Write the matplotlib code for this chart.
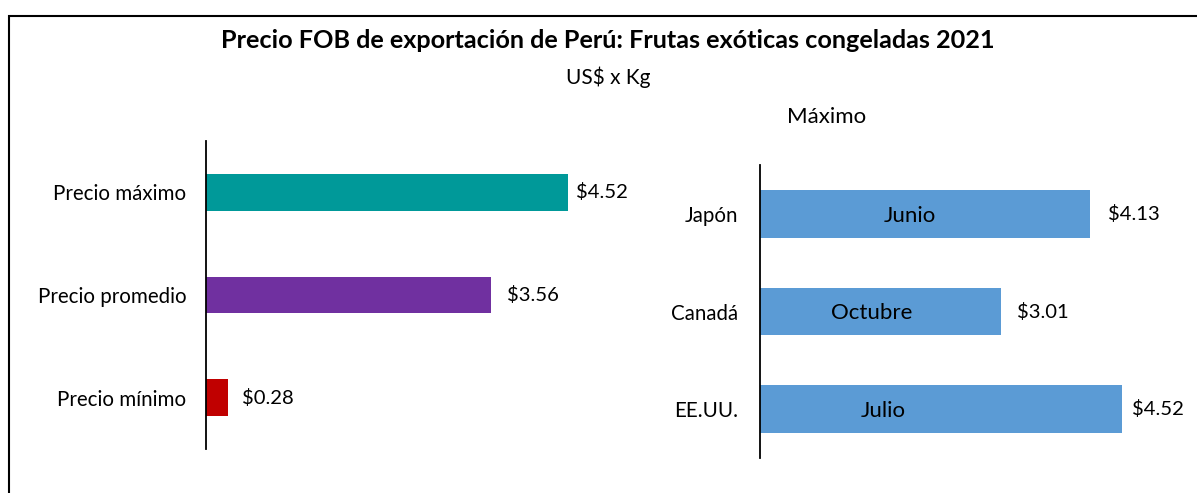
import matplotlib.pyplot as plt
from matplotlib.patches import Rectangle

plt.rcParams['font.family'] = ['Lato', 'DejaVu Sans']

# left panel
price_types = ["Precio máximo", "Precio promedio", "Precio mínimo"]
price_values = [4.52, 3.56, 0.28]
price_colors = ["#009999", "#7030A0", "#C00000"]

# right panel: max price by market
markets = ["Japón", "Canadá", "EE.UU."]
market_values = [4.13, 3.01, 4.52]
market_months = ["Junio", "Octubre", "Julio"]

# label placement (points / data units), as in the original
price_pad = [6, 11.5, 9.5]
market_pad = [12.5, 12, 7.5]
month_x = [1.87, 1.40, 1.54]

fig = plt.figure(figsize=(11.97, 4.93), dpi=100)
fig.patch.set_facecolor('white')

# frame (right and bottom edges fall outside the picture)
fig.add_artist(Rectangle((9 / 1197, -0.05), 1.2, 1 - 16 / 493 + 0.05,
                         transform=fig.transFigure, fill=False,
                         edgecolor='black', linewidth=1.5))

fig.text(0.508, 1 - 40 / 493, "Precio FOB de exportación de Perú: Frutas exóticas congeladas 2021",
         ha='center', va='center', fontsize=18.2, fontweight='bold')
fig.text(0.508, 1 - 77 / 493, "US$ x Kg", ha='center', va='center', fontsize=15)
fig.text(827 / 1197, 1 - 117 / 493, "Máximo", ha='center', va='center', fontsize=16)


def style_axis(ax, pad):
    for s in ['top', 'right', 'bottom']:
        ax.spines[s].set_visible(False)
    ax.spines['left'].set_linewidth(1.3)
    ax.set_xticks([])
    ax.tick_params(axis='y', length=0, pad=pad, labelsize=14.8)
    ax.set_ylim(2.5, -0.5)


ax1 = fig.add_axes([206 / 1197, 1 - 449 / 493, 434 / 1197, 308 / 493])
ax1.barh(range(len(price_types)), price_values, height=0.36, color=price_colors)
ax1.set_yticks(range(len(price_types)))
ax1.set_yticklabels(price_types)
ax1.set_xlim(0, 434 / 80)
style_axis(ax1, 14)
for i, v in enumerate(price_values):
    ax1.annotate(f"${v:.2f}", (v, i), xytext=(price_pad[i], 0), textcoords='offset points',
                 ha='left', va='center', fontsize=14.6)

ax2 = fig.add_axes([760 / 1197, 1 - 458 / 493, 420 / 1197, 293 / 493])
ax2.barh(range(len(markets)), market_values, height=0.49, color="#5B9BD5")
ax2.set_yticks(range(len(markets)))
ax2.set_yticklabels(markets)
ax2.set_xlim(0, 420 / 80)
style_axis(ax2, 16)
for i, v in enumerate(market_values):
    ax2.annotate(f"${v:.2f}", (v, i), xytext=(market_pad[i], 0), textcoords='offset points',
                 ha='left', va='center', fontsize=14.6)
    ax2.text(month_x[i], i + 0.02, market_months[i], ha='center', va='center', fontsize=16)

fig.savefig("out.png", dpi=100, facecolor='white')
